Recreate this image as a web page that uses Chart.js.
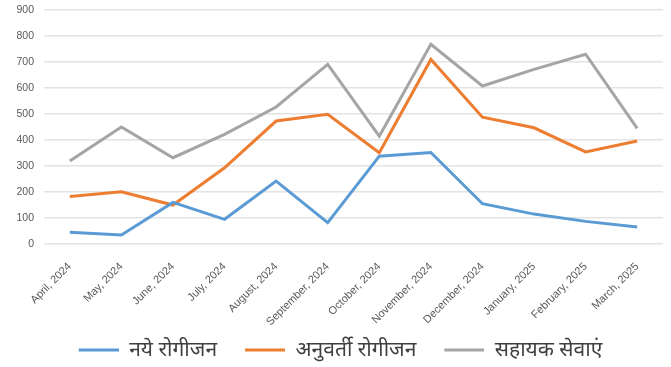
<!DOCTYPE html>
<html><head><meta charset="utf-8">
<script src="https://cdn.jsdelivr.net/npm/chart.js@4/dist/chart.umd.min.js"></script>
<style>html,body{margin:0;padding:0;background:#fff}#wrap{width:671px;height:367px;position:relative}</style>
</head><body><div id="wrap"><canvas id="c"></canvas></div>
<script>
const categories = ["April, 2024","May, 2024","June, 2024","July, 2024","August, 2024","September, 2024","October, 2024","November, 2024","December, 2024","January, 2025","February, 2025","March, 2025"];
const newPatients = [45, 35, 160, 95, 242, 82, 338, 352, 155, 115, 87, 65];
const followUp = [183, 201, 150, 293, 473, 499, 351, 710, 488, 447, 354, 396];
const supportServices = [319, 450, 332, 422, 527, 691, 415, 768, 608, 672, 730, 445];
const seriesNames = ["नये रोगीजन", "अनुवर्ती रोगीजन", "सहायक सेवाएं"];
const yTicks = [0,100,200,300,400,500,600,700,800,900];

const colors = ["#5B9BD5", "#ED7D31", "#A5A5A5"];
const mk = (i, d) => ({label: seriesNames[i], data: d, borderColor: colors[i], backgroundColor: colors[i], borderWidth: 3, pointRadius: 0, tension: 0});

const LEAD = 18, LINE_W = 40;
function marker(color) {
  const c = document.createElement('canvas');
  c.width = LEAD + LINE_W; c.height = 4;
  const g = c.getContext('2d');
  g.fillStyle = color; g.fillRect(LEAD, 0.5, LINE_W, 3);
  return c;
}

new Chart(document.getElementById('c'), {
  type: 'line',
  data: {labels: categories, datasets: [mk(0,newPatients), mk(1,followUp), mk(2,supportServices)]},
  options: {
    responsive: true, maintainAspectRatio: false, animation: false,
    layout: {padding: {top: -2, right: 8, left: 0, bottom: -3.5}},
    plugins: {
      tooltip: {enabled: false},
      legend: {
        position: 'bottom',
        labels: {
          usePointStyle: true, pointStyleWidth: LEAD + LINE_W, boxHeight: 3, padding: 10,
          color: '#404040',
          font: {family: "'Noto Sans', sans-serif", size: 21},
          generateLabels: (chart) => Chart.defaults.plugins.legend.labels.generateLabels(chart).map((it, i) => Object.assign(it, {lineWidth: 0, pointStyle: marker(colors[i])}))
        }
      }
    },
    scales: {
      x: {
        offset: true,
        grid: {display: false}, border: {display: false},
        ticks: {maxRotation: 45, minRotation: 45, color: '#595959', font: {family: "'Liberation Sans', sans-serif", size: 11}, padding: 8},
        afterFit: (s) => { s.height = 85.5; }
      },
      y: {
        min: 0, max: 900,
        afterBuildTicks: (s) => { s.ticks = yTicks.map(v => ({value: v})); },
        grid: {color: '#e3e3e3', lineWidth: 1.5, drawTicks: false},
        border: {display: false},
        ticks: {color: '#595959', font: {family: "'Liberation Sans', sans-serif", size: 10.5, lineHeight: 0.01}, padding: 10},
        afterFit: (s) => { s.width = 44; }
      }
    }
  }
});
</script></body></html>
